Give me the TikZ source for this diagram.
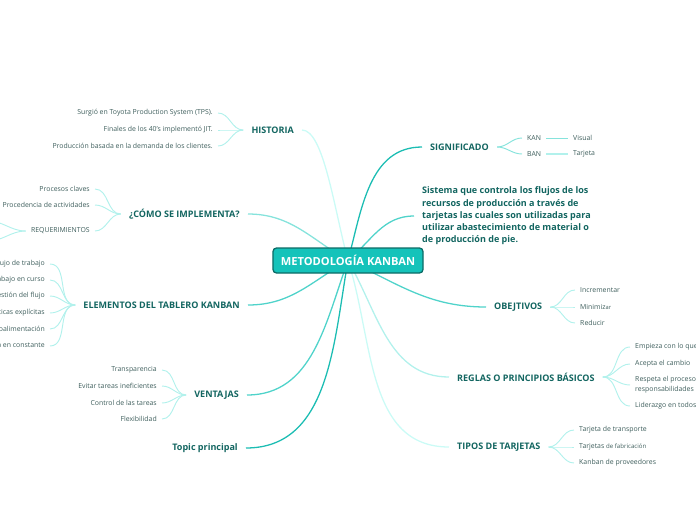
\documentclass[tikz,border=0pt]{standalone}
\usepackage{fontspec}
\setmainfont{Open Sans}
\usetikzlibrary{backgrounds}
\definecolor{KTeal}{HTML}{15C3BA}
\definecolor{KDark}{HTML}{0D6B66}
\definecolor{TopicInk}{HTML}{126560}
\definecolor{SubInk}{HTML}{3E5E5C}
\definecolor{LnA}{HTML}{1CBDB3}
\definecolor{LnB}{HTML}{4FD3CA}
\definecolor{LnC}{HTML}{86E3DC}
\definecolor{LnD}{HTML}{B2F1EC}
\definecolor{LnE}{HTML}{CBFBF6}
\tikzset{
  MT/.style={rectangle,rounded corners=3pt,fill=KTeal,draw=KDark,line width=1.1pt,
             minimum width=4.5cm,minimum height=0.75cm,
             text=white,font=\fontsize{9.5}{11}\selectfont\bfseries},
  tL/.style={anchor=east,inner xsep=2.4mm,inner ysep=1pt,text=TopicInk,
             font=\fontsize{7.7}{10.5}\selectfont\bfseries},
  tR/.style={tL,anchor=west},
  sL/.style={anchor=east,inner xsep=1.5mm,inner ysep=1pt,text=SubInk,
             font=\fontsize{5.9}{8.5}\selectfont},
  sR/.style={sL,anchor=west},
  hub/.style={line width=1.1pt},
  twig/.style={line width=0.8pt,LnD}
}
\begin{document}
\begin{tikzpicture}[x=0.03cm,y=-0.03cm]
  \useasboundingbox (0,0) rectangle (696,520);
  \node[MT] (ctr) at (348,260.5) {METODOLOGÍA KANBAN};

  \node[tL] (hist) at (302,130) {HISTORIA};
  \node[sL] (h1) at (218,113) {Surgió en Toyota Production System (TPS).};
  \node[sL] (h2) at (218,130) {Finales de los 40's implementó JIT.};
  \node[sL] (h3) at (218,146) {Producción basada en la demanda de los clientes.};

  \node[tL] (como) at (248,214) {¿CÓMO SE IMPLEMENTA?};
  \node[sL] (c1) at (95,189) {Procesos claves};
  \node[sL] (c2) at (95,205) {Procedencia de actividades};
  \node[sL] (c3) at (95,231) {REQUERIMIENTOS};
  \coordinate (c3a) at (-12,221);
  \coordinate (c3b) at (-12,241);

  \node[tL] (elem) at (248,305) {ELEMENTOS DEL TABLERO KANBAN};
  \node[sL] (e1) at (50,264) {Visualizar el flujo de trabajo};
  \node[sL] (e2) at (50,280) {Limitar el trabajo en curso};
  \node[sL] (e3) at (50,296) {Gestión del flujo};
  \node[sL] (e4) at (50,313) {Políticas explícitas};
  \node[sL] (e5) at (50,329) {Retroalimentación};
  \node[sL] (e6) at (50,346) {Mejora en constante};

  \node[tL] (vent) at (247,395) {VENTAJAS};
  \node[sL] (v1) at (162,370) {Transparencia};
  \node[sL] (v2) at (162,386) {Evitar tareas ineficientes};
  \node[sL] (v3) at (162,403) {Control de las tareas};
  \node[sL] (v4) at (162,419) {Flexibilidad};

  \node[tL] (topc) at (246,448) {Topic principal};

  \node[tR] (sig) at (422,147) {SIGNIFICADO};
  \node[sR] (kan) at (522,138) {KAN};
  \node[sR] (ban) at (522,154) {BAN};
  \node[sR] (vis) at (568,138) {Visual};
  \node[sR] (tar) at (568,154) {Tarjeta};

  \node[tR,align=left] (sis) at (414,216) {Sistema que controla los flujos de los\\recursos de producción a través de\\tarjetas las cuales son utilizadas para\\utilizar abastecimiento de material o\\de producción de pie.};

  \node[tR] (obj) at (486,307) {OBEJTIVOS};
  \node[sR] (o1) at (575,290) {Incrementar};
  \node[sR] (o2) at (575,307) {Minimiz{\fontsize{4.9}{5}\selectfont ar}};
  \node[sR] (o3) at (575,323) {Reducir};

  \node[tR] (reg) at (449,377) {REGLAS O PRINCIPIOS BÁSICOS};
  \node[sR] (r1) at (630,347) {Empieza con lo que haces ahora};
  \node[sR] (r2) at (630,364) {Acepta el cambio};
  \node[sR,align=left] (r3) at (630,385) {Respeta el proceso actual, roles y\\responsabilidades};
  \node[sR] (r4) at (630,406) {Liderazgo en todos los niveles};

  \node[tR] (tip) at (449,447) {TIPOS DE TARJETAS};
  \node[sR] (t1) at (574,430) {Tarjeta de transporte};
  \node[sR] (t2) at (574,447) {Tarjetas {\fontsize{5.2}{5}\selectfont de fabricación}};
  \node[sR] (t3) at (574,463) {Kanban de proveedores};

  \begin{scope}[on background layer]
    \draw[hub,LnE] (ctr.center) to[out=105,in=0,in looseness=0.4] (hist.east);
    \draw[hub,LnC] (ctr.center) to[out=150,in=0] (como.east);
    \draw[hub,LnB] (ctr.center) to[out=210,in=0] (elem.east);
    \draw[hub,LnB] (ctr.center) to[out=250,in=0] (vent.east);
    \draw[hub,LnA] (ctr.center) to[out=260,in=0] (topc.east);
    \draw[hub,LnA] (ctr.center) to[out=75,in=180] (sig.west);
    \draw[hub,LnB] (ctr.center) to[out=40,in=180] (sis.west);
    \draw[hub,LnB] (ctr.center) to[out=-25,in=180] (obj.west);
    \draw[hub,LnD] (ctr.center) to[out=-60,in=180] (reg.west);
    \draw[hub,LnE] (ctr.center) to[out=-72,in=180] (tip.west);
  \end{scope}

  \foreach \k in {h1,h2,h3} \draw[twig] (hist.west) to[out=180,in=0] (\k.east);
  \foreach \k in {c1,c2,c3} \draw[twig] (como.west) to[out=180,in=0] (\k.east);
  \foreach \k in {c3a,c3b} \draw[twig] (c3.west) to[out=180,in=0] (\k);
  \foreach \k in {e1,e2,e3,e4,e5,e6} \draw[twig] (elem.west) to[out=180,in=0] (\k.east);
  \foreach \k in {v1,v2,v3,v4} \draw[twig] (vent.west) to[out=180,in=0] (\k.east);
  \foreach \k in {kan,ban} \draw[twig,LnC] (sig.east) to[out=0,in=180] (\k.west);
  \draw[twig,LnC] (kan) -- (vis);
  \draw[twig,line width=1.4pt] (ban) -- (tar);
  \foreach \k in {o1,o2,o3} \draw[twig] (obj.east) to[out=0,in=180] (\k.west);
  \foreach \k in {r1,r2,r3,r4} \draw[twig] (reg.east) to[out=0,in=180] (\k.west);
  \foreach \k in {t1,t2,t3} \draw[twig] (tip.east) to[out=0,in=180] (\k.west);
\end{tikzpicture}
\end{document}
